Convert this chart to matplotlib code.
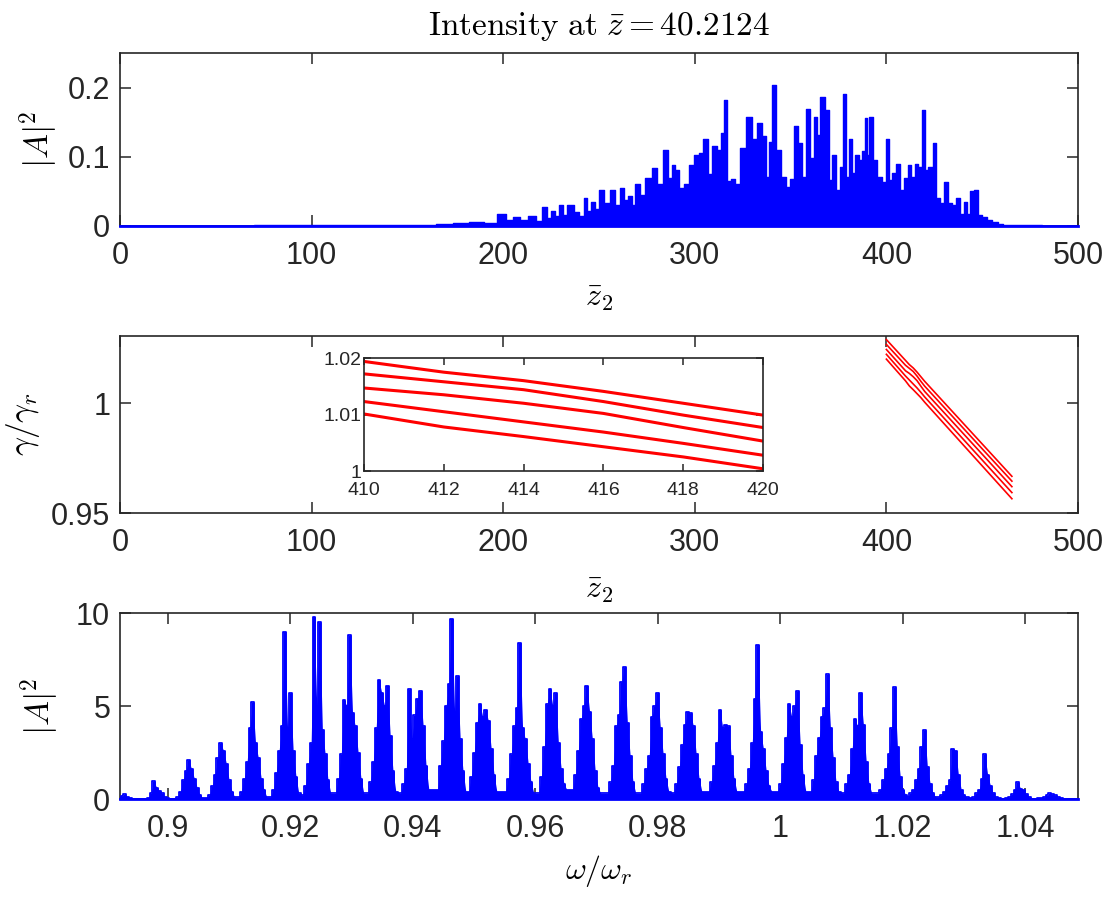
import matplotlib
matplotlib.use('Agg')
import matplotlib.pyplot as plt
import numpy as np
from matplotlib.ticker import FuncFormatter

plt.rcParams['font.family'] = ['Liberation Sans', 'DejaVu Sans']
plt.rcParams['mathtext.fontset'] = 'cm'

# ---- top panel: |A|^2 along z2 ----
z2_top = [0, 140, 150, 160, 170, 178, 186, 194, 200, 203, 207, 211, 215, 219,
          222, 224, 226, 228, 230, 232, 235, 238.5, 241, 243, 245, 247, 249,
          251, 254, 257, 260, 262, 264, 266, 268, 270, 273, 275, 276.5, 279,
          282, 285, 287, 289, 290.5, 293, 296, 298, 301, 303, 306, 308, 310,
          313, 314.5, 316, 318, 320, 322, 325, 328.5, 331, 334, 336, 338.4,
          339.5, 341.3, 343.6, 346, 349, 350.5, 353, 355, 356.6, 359.3, 361,
          363, 364.5, 366.7, 369, 370.7, 372.5, 375, 376.6, 378.4, 379.6,
          381.4, 382.7, 384.5, 386.6, 388, 389.4, 390.5, 391.8, 394, 396,
          398.9, 400.5, 401.9, 404, 406.2, 408, 410.2, 412, 413.7, 415.8,
          417.5, 419.3, 421, 422.8, 425.4, 426.6, 428.9, 431.2, 433.2, 435.3,
          437.5, 439.3, 441.6, 442.8, 444.5, 447.1, 448.8, 451.5, 454, 456.7,
          459.3, 462, 500]
a2_top = [0, 0.001, 0.002, 0.002, 0.003, 0.004, 0.006, 0.005, 0.017, 0.008,
          0.013, 0.009, 0.015, 0.007, 0.028, 0.012, 0.021, 0.014, 0.031, 0.016,
          0.030, 0.020, 0.014, 0.040, 0.022, 0.035, 0.024, 0.052, 0.033, 0.052,
          0.030, 0.055, 0.038, 0.043, 0.030, 0.061, 0.045, 0.069, 0.070, 0.084,
          0.060, 0.110, 0.070, 0.088, 0.081, 0.055, 0.060, 0.088, 0.103, 0.106,
          0.126, 0.075, 0.115, 0.110, 0.134, 0.182, 0.065, 0.068, 0.060, 0.113,
          0.158, 0.125, 0.149, 0.130, 0.071, 0.122, 0.204, 0.110, 0.071, 0.057,
          0.068, 0.144, 0.120, 0.071, 0.169, 0.098, 0.158, 0.132, 0.186, 0.167,
          0.067, 0.102, 0.052, 0.085, 0.190, 0.071, 0.126, 0.076, 0.103, 0.096,
          0.108, 0.156, 0.103, 0.157, 0.096, 0.071, 0.064, 0.126, 0.066, 0.076,
          0.090, 0.052, 0.069, 0.088, 0.071, 0.090, 0.085, 0.167, 0.081, 0.085,
          0.120, 0.040, 0.033, 0.063, 0.033, 0.031, 0.041, 0.018, 0.035, 0.018,
          0.051, 0.052, 0.016, 0.013, 0.008, 0.006, 0.003, 0.001, 0]

# ---- middle panel: gamma / gamma_r of the five slices ----
z2_gamma = [400, 410, 412, 414, 416, 418, 420, 465.5]
gamma_1 = [1.0289, 1.0194, 1.0175, 1.0160, 1.0141, 1.0120, 1.0099, 0.9667]
gamma_2 = [1.0267, 1.0172, 1.0158, 1.0144, 1.0123, 1.0099, 1.0077, 0.9645]
gamma_3 = [1.0244, 1.0147, 1.0135, 1.0120, 1.0102, 1.0077, 1.0053, 0.9620]
gamma_4 = [1.0222, 1.0123, 1.0105, 1.0087, 1.0069, 1.0049, 1.0028, 0.9593]
gamma_5 = [1.0200, 1.0101, 1.0078, 1.0061, 1.0043, 1.0025, 1.0004, 0.9565]

# ---- bottom panel: spectrum |A|^2 vs omega/omega_r ----
omega_lim = [0.8922, 1.0486]
omega_peaks = [0.89298, 0.89820, 0.90343, 0.90865, 0.91388, 0.91910, 0.92433,
               0.92971, 0.93494, 0.94033, 0.94637, 0.95143, 0.95747, 0.96286,
               0.96841, 0.97412, 0.97951, 0.98490, 0.99061, 0.99633, 1.00188,
               1.00727, 1.01265, 1.01820, 1.02310, 1.02816, 1.03339, 1.03878,
               1.04400]
spec_peaks = [
    [0, 0, 0, 0.05, 0.15, 0.25, 0.1, 0.05, 0, 0, 0],
    [0, 0, 0.05, 0.3, 0.95, 0.6, 0.45, 0.3, 0.1, 0.05, 0],
    [0, 0.1, 0.4, 1.0, 1.5, 2.1, 1.6, 1.1, 0.6, 0.2, 0.05],
    [0.05, 0.2, 0.7, 1.3, 2.2, 3.0, 2.6, 1.9, 1.0, 0.4, 0.1],
    [0.1, 0.4, 1.1, 2.0, 3.8, 5.2, 3.0, 2.2, 1.1, 0.5, 0.1],
    [0.1, 0.5, 1.4, 2.6, 3.9, 9.0, 3.8, 5.7, 2.6, 1.2, 0.3],
    [0.2, 0.7, 1.9, 3.0, 9.8, 5.0, 9.5, 3.7, 2.4, 1.0, 0.3],
    [0.3, 1.1, 2.4, 5.3, 5.0, 8.8, 4.6, 3.9, 2.5, 1.1, 0.3],
    [0.3, 0.9, 2.0, 3.8, 6.4, 5.7, 5.0, 6.1, 3.4, 1.5, 0.4],
    [0.3, 0.8, 1.6, 5.9, 3.2, 4.5, 5.4, 5.8, 3.9, 1.8, 0.5],
    [0.5, 1.8, 3.1, 5.0, 6.2, 9.7, 4.7, 6.6, 3.2, 1.5, 0.4],
    [0.4, 1.2, 2.5, 4.1, 5.1, 4.4, 4.8, 4.2, 2.7, 1.3, 0.4],
    [0.4, 1.1, 2.4, 3.9, 4.9, 8.4, 3.8, 3.2, 1.9, 0.9, 0.3],
    [0.3, 1.2, 2.8, 5.1, 5.9, 5.0, 5.7, 3.0, 1.6, 0.8, 0.5],
    [0.5, 1.3, 2.6, 4.3, 5.0, 6.1, 4.7, 3.2, 1.5, 0.6, 0.3],
    [0.3, 0.9, 1.8, 3.9, 4.5, 6.3, 7.1, 4.1, 2.3, 0.9, 0.3],
    [0.3, 0.8, 1.6, 2.3, 4.4, 5.0, 5.7, 3.8, 2.4, 1.1, 0.4],
    [0.3, 0.8, 1.7, 2.9, 4.0, 4.7, 4.6, 3.9, 2.4, 1.1, 0.4],
    [0.4, 0.9, 1.8, 3.0, 4.8, 3.8, 4.0, 3.9, 2.3, 1.1, 0.4],
    [0.4, 0.8, 1.6, 3.0, 5.4, 8.3, 3.6, 2.7, 1.5, 0.7, 0.4],
    [0.4, 0.8, 1.9, 3.3, 5.1, 4.4, 5.0, 5.8, 2.9, 1.3, 0.4],
    [0.4, 1.0, 2.3, 3.3, 4.4, 4.9, 6.7, 3.8, 2.2, 0.9, 0.4],
    [0.3, 0.8, 1.3, 2.7, 4.3, 3.9, 5.7, 4.0, 2.0, 0.8, 0.3],
    [0.3, 0.5, 1.0, 1.6, 2.4, 3.8, 6.0, 2.8, 1.2, 0.5, 0.2],
    [0.1, 0.3, 0.5, 1.0, 1.6, 2.8, 3.7, 1.7, 0.8, 0.3, 0.1],
    [0.1, 0.2, 0.4, 0.7, 1.0, 2.7, 2.6, 1.3, 0.5, 0.2, 0.1],
    [0.05, 0.1, 0.3, 0.5, 1.1, 2.4, 1.3, 0.7, 0.3, 0.1, 0.05],
    [0.02, 0.05, 0.1, 0.25, 0.5, 0.9, 0.55, 0.5, 0.25, 0.1, 0.02],
    [0.02, 0.03, 0.05, 0.1, 0.2, 0.3, 0.25, 0.2, 0.1, 0.05, 0.02],
]

# samples within one spectral line
peak_offsets = np.linspace(-0.0023, 0.0023, 11)
omega = np.concatenate([[0.885]] + [c + peak_offsets for c in omega_peaks] + [[1.055]])
spec = np.concatenate([[0]] + spec_peaks + [[0]])

axis_col = '#262626'
blue = '#0000ff'
red = '#ff0000'


def style_axes(ax, xpad=11, ypad=7, size=22, length=8):
    ax.tick_params(direction='in', length=length, width=1.1, top=True,
                   right=True, labelsize=size, colors=axis_col)
    ax.tick_params(axis='x', pad=xpad)
    ax.tick_params(axis='y', pad=ypad)
    for s in ax.spines.values():
        s.set_linewidth(1.2)
        s.set_color(axis_col)
    ax.xaxis.set_major_formatter(FuncFormatter(lambda v, p: '%g' % round(v, 6)))
    ax.yaxis.set_major_formatter(FuncFormatter(lambda v, p: '%g' % round(v, 6)))


fig = plt.figure(figsize=(11.2, 9.01), dpi=100)

# top
ax1 = fig.add_axes([0.1071, 0.7492, 0.8554, 0.192])
ax1.fill_between(z2_top, a2_top, step='mid', color=blue, lw=0, zorder=3)
ax1.step(z2_top, a2_top, where='mid', color=blue, lw=1.0, zorder=3)
ax1.axhline(0, color=blue, lw=2, clip_on=False, zorder=4)
ax1.set_xlim(0, 500)
ax1.set_ylim(0, 0.25)
ax1.set_xticks([0, 100, 200, 300, 400, 500])
ax1.set_yticks([0, 0.1, 0.2])
style_axes(ax1)
ax1.set_title(r'$\mathrm{Intensity\ at\ }\bar{z} = 40.2124$', fontsize=24, pad=13)
ax1.set_xlabel(r'$\bar{z}_2$', fontsize=23)
ax1.xaxis.set_label_coords(0.5, -0.33)
ax1.set_ylabel(r'$|A|^2$', fontsize=24)
ax1.yaxis.set_label_coords(-0.062, 0.5)

# middle
ax2 = fig.add_axes([0.1071, 0.4306, 0.8554, 0.1964])
for g in [gamma_1, gamma_2, gamma_3, gamma_4, gamma_5]:
    ax2.plot(z2_gamma, g, color=red, lw=1.2)
ax2.set_xlim(0, 500)
ax2.set_ylim(0.95, 1.0305)
ax2.set_xticks([0, 100, 200, 300, 400, 500])
ax2.set_yticks([0.95, 1])
style_axes(ax2)
ax2.set_xlabel(r'$\bar{z}_2$', fontsize=23)
ax2.xaxis.set_label_coords(0.5, -0.35)
ax2.set_ylabel(r'$\gamma/\gamma_r$', fontsize=24)
ax2.yaxis.set_label_coords(-0.081, 0.5)

# inset zoom on the slices
axin = fig.add_axes([0.325, 0.4772, 0.3563, 0.1254])
for g in [gamma_1, gamma_2, gamma_3, gamma_4, gamma_5]:
    axin.plot(z2_gamma, g, color=red, lw=2.2)
axin.set_xlim(410, 420)
axin.set_ylim(1, 1.02)
axin.set_xticks([410, 412, 414, 416, 418, 420])
axin.set_yticks([1, 1.01, 1.02])
style_axes(axin, xpad=8, ypad=2, size=14, length=5)

# bottom
ax3 = fig.add_axes([0.1071, 0.1132, 0.8554, 0.2064])
ax3.fill_between(omega, spec, color=blue, lw=0, zorder=3)
ax3.fill_between(omega, spec, step='mid', color=blue, lw=0, zorder=3)
ax3.step(omega, spec, where='mid', color=blue, lw=1.3, zorder=3)
ax3.axhline(0, color=blue, lw=2, clip_on=False, zorder=4)
ax3.set_xlim(omega_lim)
ax3.set_ylim(0, 10)
ax3.set_xticks([0.9, 0.92, 0.94, 0.96, 0.98, 1.0, 1.02, 1.04])
ax3.set_yticks([0, 5, 10])
style_axes(ax3)
ax3.set_xlabel(r'$\omega/\omega_r$', fontsize=23)
ax3.xaxis.set_label_coords(0.5, -0.29)
ax3.set_ylabel(r'$|A|^2$', fontsize=24)
ax3.yaxis.set_label_coords(-0.06, 0.5)

fig.savefig('out.png', dpi=100)
